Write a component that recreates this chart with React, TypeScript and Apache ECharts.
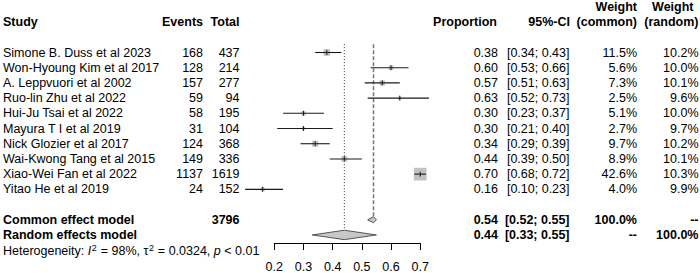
import React, { useEffect, useRef } from "react";
import * as echarts from "echarts";

const studies = [
  "Simone B. Duss et al 2023",
  "Won-Hyoung Kim et al 2017",
  "A. Leppvuori et al 2002",
  "Ruo-lin Zhu et al 2022",
  "Hui-Ju Tsai et al 2022",
  "Mayura T I et al 2019",
  "Nick Glozier et al 2017",
  "Wai-Kwong Tang et al 2015",
  "Xiao-Wei Fan et al 2022",
  "Yitao He et al 2019",
];
const events = [168, 128, 157, 59, 58, 31, 124, 149, 1137, 24];
const totals = [437, 214, 277, 94, 195, 104, 368, 336, 1619, 152];
const proportions = [0.38, 0.6, 0.57, 0.63, 0.3, 0.3, 0.34, 0.44, 0.7, 0.16];
const ciLower = [0.34, 0.53, 0.51, 0.52, 0.23, 0.21, 0.29, 0.39, 0.68, 0.1];
const ciUpper = [0.43, 0.66, 0.63, 0.73, 0.37, 0.4, 0.39, 0.5, 0.72, 0.23];
const weightCommon = [11.5, 5.6, 7.3, 2.5, 5.1, 2.7, 9.7, 8.9, 42.6, 4.0];
const weightRandom = [10.2, 10.0, 10.1, 9.6, 10.0, 9.7, 10.2, 10.1, 10.3, 9.9];

const summaryLabels = ["Common effect model", "Random effects model"];
const summaryTotals = ["3796", ""];
const summaryEst = [0.54, 0.44];
const summaryLower = [0.52, 0.33];
const summaryUpper = [0.55, 0.55];
const summaryWCommon = ["100.0%", "--"];
const summaryWRandom = ["--", "100.0%"];

const xTicks = [0.2, 0.3, 0.4, 0.5, 0.6, 0.7];

const FONT = '"Liberation Sans", Arial, Helvetica, sans-serif';
const FS = 12.5;

// column x positions (layout)
const X_STUDY = 3;
const X_EVENTS = 203;
const X_TOTAL = 239.5;
const X_PROP = 498;
const X_CI = 569.5;
const X_WC = 637;
const X_WR = 698.5;

const COMMON_ROW = 11;
const RANDOM_ROW = 12;
const HET_ROW = 13;

function txt(x: number, y: number, text: string, align: string, bold = false, size = FS) {
  return {
    type: "text",
    x,
    y,
    style: {
      text,
      fill: "#000",
      fontSize: size,
      fontFamily: FONT,
      fontWeight: bold ? "bold" : "normal",
      align,
      verticalAlign: "middle",
    },
  };
}

export default function App() {
  const ref = useRef<HTMLDivElement>(null);

  useEffect(() => {
    if (!ref.current) return;
    const chart = echarts.init(ref.current, null, { renderer: "svg" });

    const option: any = {
      animation: false,
      backgroundColor: "#fff",
      grid: { left: 274.3, width: 145.9, top: 37.3, height: 205.7 },
      xAxis: {
        type: "value",
        min: 0.2,
        max: 0.7,
        interval: 0.1,
        axisLine: { show: true, onZero: false, lineStyle: { color: "#000", width: 1 } },
        axisTick: { show: true, length: 7, customValues: xTicks, lineStyle: { color: "#000", width: 1 } },
        axisLabel: {
          show: true,
          customValues: xTicks,
          color: "#000",
          fontSize: FS,
          fontFamily: FONT,
          margin: 17,
          formatter: (v: number) => v.toFixed(1),
        },
        splitLine: { show: false },
      },
      yAxis: {
        type: "value",
        inverse: true,
        min: -1,
        max: 12.53,
        show: false,
        splitLine: { show: false },
      },
      series: [
        // header
        {
          type: "custom",
          clip: false,
          silent: true,
          data: [[0.2, -2]],
          renderItem: (params: any, api: any) => {
            const y2 = api.coord([0.2, -2])[1];
            const y1 = api.coord([0.2, -3])[1];
            return {
              type: "group",
              children: [
                txt(X_STUDY, y2, "Study", "left", true),
                txt(X_EVENTS, y2, "Events", "right", true),
                txt(X_TOTAL, y2, "Total", "right", true),
                txt(X_PROP - 1, y2, "Proportion", "right", true),
                txt(X_CI + 0.5, y2, "95%-CI", "right", true),
                txt(X_WC, y1, "Weight", "right", true),
                txt(X_WC, y2, "(common)", "right", true),
                txt(X_WR - 5, y1, "Weight", "right", true),
                txt(X_WR, y2, "(random)", "right", true),
              ],
            };
          },
        },
        // reference lines
        {
          type: "custom",
          clip: false,
          silent: true,
          data: [
            [summaryEst[0], COMMON_ROW],
            [summaryEst[1], RANDOM_ROW],
          ],
          z: 1,
          renderItem: (params: any, api: any) => {
            const i = params.dataIndex;
            const v = summaryEst[i];
            const row = i === 0 ? COMMON_ROW : RANDOM_ROW;
            const h = i === 0 ? 3 : 4.7;
            const top = api.coord([v, -0.55]);
            const bot = api.coord([v, row]);
            return {
              type: "line",
              shape: { x1: top[0], y1: top[1], x2: bot[0], y2: bot[1] - h },
              style:
                i === 0
                  ? { stroke: "#777", lineWidth: 1.5, lineDash: [4, 2] }
                  : { stroke: "#333", lineWidth: 1, lineDash: [1, 2] },
            };
          },
        },
        // studies
        {
          type: "custom",
          clip: false,
          silent: true,
          z: 2,
          data: studies.map((_, i) => [proportions[i], i]),
          renderItem: (params: any, api: any) => {
            const i = params.dataIndex;
            const p = api.coord([proportions[i], i]);
            const lo = api.coord([ciLower[i], i]);
            const hi = api.coord([ciUpper[i], i]);
            const y = p[1];
            const side = 12.7 * Math.sqrt(weightCommon[i] / 42.6);
            return {
              type: "group",
              children: [
                {
                  type: "rect",
                  shape: { x: p[0] - side / 2, y: y - side / 2, width: side, height: side },
                  style: { fill: "#c2c2c2" },
                },
                {
                  type: "line",
                  shape: { x1: lo[0], y1: y, x2: hi[0], y2: y },
                  style: { stroke: "#1a1a1a", lineWidth: 1.1 },
                },
                {
                  type: "line",
                  shape: { x1: p[0], y1: y - 2.5, x2: p[0], y2: y + 2.5 },
                  style: { stroke: "#1a1a1a", lineWidth: 1 },
                },
                txt(X_STUDY, y, studies[i], "left"),
                txt(X_EVENTS, y, String(events[i]), "right"),
                txt(X_TOTAL, y, String(totals[i]), "right"),
                txt(X_PROP, y, proportions[i].toFixed(2), "right"),
                txt(X_CI, y, `[${ciLower[i].toFixed(2)}; ${ciUpper[i].toFixed(2)}]`, "right"),
                txt(X_WC, y, `${weightCommon[i].toFixed(1)}%`, "right"),
                txt(X_WR, y, `${weightRandom[i].toFixed(1)}%`, "right"),
              ],
            };
          },
        },
        // summary diamonds
        {
          type: "custom",
          clip: false,
          silent: true,
          z: 3,
          data: [
            [summaryEst[0], COMMON_ROW],
            [summaryEst[1], RANDOM_ROW],
          ],
          renderItem: (params: any, api: any) => {
            const i = params.dataIndex;
            const row = i === 0 ? COMMON_ROW : RANDOM_ROW;
            const h = i === 0 ? 3 : 4.7;
            const e = api.coord([summaryEst[i], row]);
            const lo = api.coord([summaryLower[i], row]);
            const hi = api.coord([summaryUpper[i], row]);
            const y = e[1];
            return {
              type: "group",
              children: [
                {
                  type: "polygon",
                  shape: {
                    points: [
                      [lo[0], y],
                      [e[0], y - h],
                      [hi[0], y],
                      [e[0], y + h],
                    ],
                  },
                  style: { fill: "#c8c8c8", stroke: "#555", lineWidth: 1 },
                },
                txt(X_STUDY, y, summaryLabels[i], "left", true),
                txt(X_TOTAL, y, summaryTotals[i], "right", true),
                txt(X_PROP, y, summaryEst[i].toFixed(2), "right", true),
                txt(
                  X_CI,
                  y,
                  `[${summaryLower[i].toFixed(2)}; ${summaryUpper[i].toFixed(2)}]`,
                  "right",
                  true
                ),
                txt(X_WC, y, summaryWCommon[i], "right", true),
                txt(X_WR, y, summaryWRandom[i], "right", true),
              ],
            };
          },
        },
        // heterogeneity
        {
          type: "custom",
          clip: false,
          silent: true,
          data: [[0.2, HET_ROW]],
          renderItem: (params: any, api: any) => {
            const y = api.coord([0.2, HET_ROW])[1];
            return {
              type: "text",
              x: X_STUDY,
              y,
              style: {
                text: "{n|Heterogeneity: }{i|I}{s|2}{n| = 98%, τ}{s|2}{n| = 0.0324, }{i|p}{n| < 0.01}",
                verticalAlign: "middle",
                align: "left",
                rich: {
                  n: { fontSize: 12.5, fontFamily: FONT, fill: "#000", color: "#000", lineHeight: 14, verticalAlign: "bottom" },
                  i: { fontSize: 12.5, fontFamily: FONT, fontStyle: "italic", fill: "#000", color: "#000", lineHeight: 14, verticalAlign: "bottom" },
                  s: { fontSize: 9, fontFamily: FONT, fill: "#000", color: "#000", lineHeight: 14, verticalAlign: "top", padding: [0, 0.5, 0, 0.5] },
                },
              },
            };
          },
        },
      ],
    };

    chart.setOption(option);
    return () => chart.dispose();
  }, []);

  return (
    <div
      ref={ref}
      style={{ position: "absolute", left: 0, top: 0, width: 700, height: 273 }}
    />
  );
}
